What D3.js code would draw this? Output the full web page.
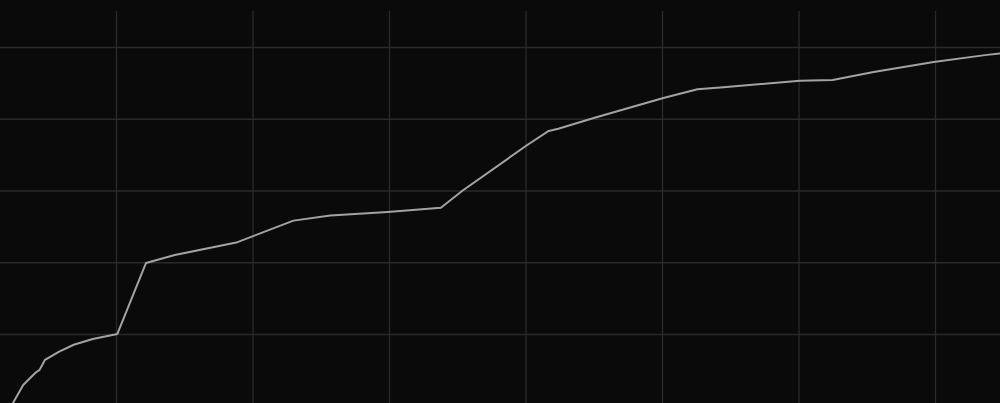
<!DOCTYPE html>
<html>
<head>
<meta charset="utf-8">
<script src="https://cdn.jsdelivr.net/npm/d3@7"></script>
<style>
  html, body { margin: 0; padding: 0; background: #0a0a0a; }
  svg { display: block; }
</style>
</head>
<body>
<div id="chart"></div>
<script>
var w = 1000;
var h = 403;

// values (grid units)
var xValues = [0.24, 0.32, 0.41, 0.44, 0.48, 0.58, 0.69, 0.83, 1.01, 1.22, 1.43, 1.89, 2.30, 2.57, 2.99, 3.38, 3.54, 4.01, 4.17, 4.24, 4.50, 5.01, 5.26, 5.45, 6.01, 6.25, 6.55, 6.99, 7.38, 7.48];
var yValues = [0.02, 0.29, 0.46, 0.50, 0.64, 0.75, 0.85, 0.93, 1.00, 1.99, 2.10, 2.28, 2.58, 2.65, 2.70, 2.76, 3.00, 3.63, 3.83, 3.86, 4.01, 4.29, 4.41, 4.44, 4.53, 4.54, 4.65, 4.79, 4.89, 4.91];
var xTicks = [1, 2, 3, 4, 5, 6, 7];
var yTicks = [1, 2, 3, 4, 5];

var data = xValues.map(function(x, i) { return {x: x, y: yValues[i]}; });

var xScale = d3.scaleLinear()
    .domain([0, 7.476])
    .range([-20.5, w]);

var yScale = d3.scaleLinear()
    .domain([0, 5.5])
    .range([405.75, 11.1]);

var svg = d3.select("#chart")
    .append("svg")
    .attr("width", w)
    .attr("height", h);

svg.append("rect")
    .attr("width", w)
    .attr("height", h)
    .attr("fill", "#0a0a0a");

// vertical grid
svg.append("g")
    .attr("class", "x grid")
    .attr("transform", "translate(0," + yScale(0) + ")")
    .call(d3.axisBottom(xScale).tickValues(xTicks).tickSize(-(yScale(0) - yScale(5.5))).tickFormat(""));

// horizontal grid
svg.append("g")
    .attr("class", "y grid")
    .attr("transform", "translate(" + w + ",0)")
    .call(d3.axisLeft(yScale).tickValues(yTicks).tickSize(w).tickFormat(""));

svg.selectAll(".grid .domain").remove();
svg.selectAll(".grid line")
    .attr("stroke", "#2a2a2a")
    .attr("stroke-width", 1.3);

var line = d3.line()
    .x(function(d) { return xScale(d.x); })
    .y(function(d) { return yScale(d.y); });

svg.append("path")
    .datum(data)
    .attr("d", line)
    .attr("fill", "none")
    .attr("stroke", "#a3a3a3")
    .attr("stroke-width", 2)
    .attr("stroke-linejoin", "round");
</script>
</body>
</html>
